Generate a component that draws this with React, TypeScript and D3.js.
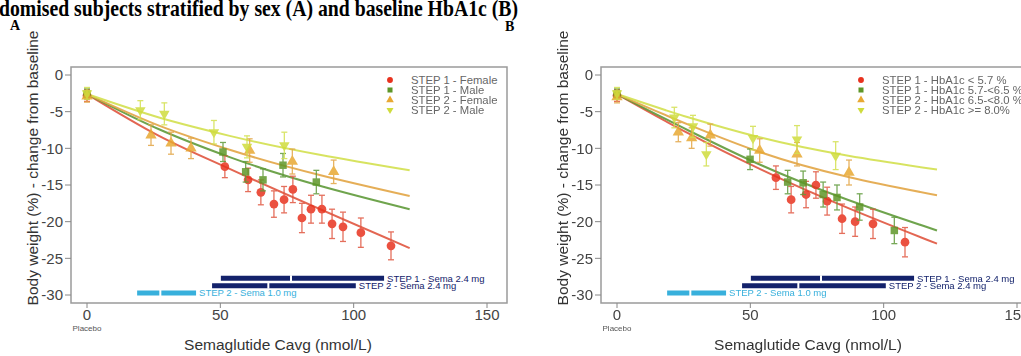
import React from 'react';
import * as d3 from 'd3';

// observed means with error half-widths: [Cavg, change %, err]
const A_STEP1_FEMALE = [[0, -2.8, 0.8], [51.7, -12.5, 1.5], [60.4, -14.3, 1.6], [65.2, -16, 1.7], [70.1, -17.6, 1.8], [73.9, -17, 1.8], [77.2, -15.6, 1.8], [80.6, -19.5, 2], [84, -18.3, 1.9], [88.1, -18.3, 1.9], [91.9, -20.3, 2], [96, -20.7, 2], [102.7, -21.5, 2], [114, -23.3, 1.9]];
const A_STEP1_MALE = [[0, -2.6, 0.7], [51, -10.5, 1.3], [59.5, -13.2, 1.4], [66, -14.3, 1.5], [73.5, -12.3, 1.6], [86, -14.6, 1.6]];
const A_STEP2_FEMALE = [[0, -2.9, 0.8], [24, -8.2, 1.4], [31.5, -9.3, 1.5], [39, -10, 1.4], [61, -10.3, 1.6], [77, -11.8, 1.7], [92.5, -13.2, 1.6]];
const A_STEP2_MALE = [[0, -2.5, 0.8], [20, -4.8, 1.3], [29, -5.3, 1.5], [47.6, -7.8, 1.6], [60, -9.8, 1.5], [74, -9.6, 1.8]];

const B_HBA_LT57 = [[0, -2.8, 0.8], [59.6, -14, 1.6], [65.3, -17, 1.8], [70.9, -16.3, 1.8], [74.6, -15, 1.8], [78.8, -17.2, 1.9], [84.4, -19.6, 2], [89.3, -20, 2], [96, -20.3, 2], [108, -22.8, 2]];
const B_HBA_57_65 = [[0, -2.6, 0.7], [49.9, -11.5, 1.4], [64, -14.6, 1.6], [69.8, -14.7, 1.6], [77.3, -16.3, 1.7], [82.5, -16.7, 1.7], [91, -18, 1.8], [104, -21.2, 1.8]];
const B_HBA_65_80 = [[0, -3, 0.8], [23, -7.8, 1.3], [28, -8.6, 1.4], [35, -8.2, 1.5], [53.5, -10.3, 1.6], [67.5, -10.8, 1.6], [87, -13.3, 1.7]];
const B_HBA_GE80 = [[0, -2.5, 0.8], [21.5, -5.8, 1.4], [28.5, -7, 1.5], [33.5, -10.8, 1.6], [51, -8.6, 1.6], [67.5, -8.8, 1.9], [82, -11, 1.9]];

// model fits
const A_FIT = [
  [[0, -2.6], [27, -8.3], [53.5, -12.8], [121, -23.6]],
  [[0, -2.6], [27, -7.4], [53.5, -11.2], [121, -18.3]],
  [[0, -2.6], [27, -6.9], [53.5, -10.2], [121, -16.5]],
  [[0, -2.6], [27, -5.8], [53.5, -8.3], [121, -13]],
];
const B_FIT = [
  [[0, -2.6], [27, -8], [53.5, -12.8], [120, -23]],
  [[0, -2.6], [27, -7.6], [53.5, -12.2], [120, -21.2]],
  [[0, -2.6], [27, -6.8], [53.5, -10.5], [120, -16.4]],
  [[0, -2.6], [27, -5.8], [53.5, -8.5], [120, -12.9]],
];

const LEGEND_A = ['STEP 1 - Female', 'STEP 1 - Male', 'STEP 2 - Female', 'STEP 2 - Male'];
const LEGEND_B = ['STEP 1 - HbA1c < 5.7 %', 'STEP 1 - HbA1c 5.7-<6.5 %', 'STEP 2 - HbA1c 6.5-<8.0 %', 'STEP 2 - HbA1c >= 8.0%'];

// exposure ranges
const EXPOSURE_LABELS = ['STEP 1 - Sema 2.4 mg', 'STEP 2 - Sema 2.4 mg', 'STEP 2 - Sema 1.0 mg'];
const EXPOSURE_LEVEL = [-28, -29, -30];
const EXPOSURE_FROM = [50.2, 46.9, 18.8];
const EXPOSURE_TO = [111.4, 100.8, 40.9];
const EXPOSURE_MID = [76.5, 68, 27.5];

const X_TICKS = [0, 50, 100, 150];
const Y_TICKS = [0, -5, -10, -15, -20, -25, -30];

const COLORS = ['#e8321e', '#5e9628', '#e8a832', '#cfdc3c'];
const LINE_COLORS = ['#e0553f', '#5f9a3a', '#e2a545', '#d3e04f'];
const BAR_COLORS = ['#13226b', '#13226b', '#38b0dc'];
const SYMBOLS = [d3.symbolCircle, d3.symbolSquare, d3.symbolTriangle, d3.symbolTriangle];
const SYM_SIZE = [60, 56, 56, 48];
const SYM_ROT = [0, 0, 0, 180];

const W = 1021;
const H = 356;
const FONT = 'Liberation Sans, Arial, sans-serif';

type PanelProps = {
  left: number; right: number; zeroPx: number; legX: number;
  series: number[][][]; fits: number[][][]; legend: string[];
};

const Panel: React.FC<PanelProps> = ({ left, right, zeroPx, legX, series, fits, legend }) => {
  const top = 67, bottom = 303;
  const x = d3.scaleLinear().domain([0, 150]).range([zeroPx, zeroPx + 400]);
  const y = d3.scaleLinear().domain([0, -30]).range([75, 295]);
  const line = d3.line<number[]>().x(d => x(d[0])).y(d => y(d[1])).curve(d3.curveMonotoneX);

  return (
    <g>
      <rect x={left} y={top} width={right - left} height={bottom - top} fill="none" stroke="#9a9a9a" strokeWidth={1.5} />
      {Y_TICKS.map(t => (
        <g key={t}>
          <line x1={left - 6} x2={left} y1={y(t)} y2={y(t)} stroke="#888" />
          <text x={left - 8} y={y(t)} dy="0.35em" textAnchor="end" fontSize={15} fill="#444" fontFamily={FONT}>{t}</text>
        </g>
      ))}
      {X_TICKS.map(t => (
        <g key={t}>
          <line x1={x(t)} x2={x(t)} y1={bottom} y2={bottom + 5} stroke="#888" />
          <text x={x(t)} y={bottom + 17} textAnchor="middle" fontSize={15} fill="#444" fontFamily={FONT}>{t}</text>
        </g>
      ))}
      <text x={x(0)} y={bottom + 28} textAnchor="middle" fontSize={8} fill="#555" fontFamily={FONT}>Placebo</text>
      <text x={x(0) + 191} y={bottom + 47} textAnchor="middle" fontSize={15.5} fill="#333" fontFamily={FONT}>Semaglutide Cavg (nmol/L)</text>
      <text transform={`translate(${left - 33},168) rotate(-90)`} textAnchor="middle" fontSize={15.5} fill="#333" fontFamily={FONT}>Body weight (%) - change from baseline</text>

      {fits.map((f, i) => (
        <path key={i} d={line(f) || ''} fill="none" stroke={LINE_COLORS[i]} strokeWidth={2} opacity={0.9} />
      ))}

      {series.map((s, i) => (
        <g key={i} opacity={0.85}>
          {s.map((p, j) => (
            <g key={j} stroke={LINE_COLORS[i]} strokeWidth={1.3}>
              <line x1={x(p[0])} x2={x(p[0])} y1={y(p[1] + p[2])} y2={y(p[1] - p[2])} />
              <line x1={x(p[0]) - 3} x2={x(p[0]) + 3} y1={y(p[1] + p[2])} y2={y(p[1] + p[2])} />
              <line x1={x(p[0]) - 3} x2={x(p[0]) + 3} y1={y(p[1] - p[2])} y2={y(p[1] - p[2])} />
              <path d={d3.symbol().type(SYMBOLS[i]).size(SYM_SIZE[i])() || ''}
                transform={`translate(${x(p[0])},${y(p[1])}) rotate(${SYM_ROT[i]})`}
                fill={COLORS[i]} stroke="none" />
            </g>
          ))}
        </g>
      ))}

      {EXPOSURE_LABELS.map((lab, i) => (
        <g key={lab}>
          <line x1={x(EXPOSURE_FROM[i])} x2={x(EXPOSURE_TO[i])} y1={y(EXPOSURE_LEVEL[i]) - 2} y2={y(EXPOSURE_LEVEL[i]) - 2}
            stroke={BAR_COLORS[i]} strokeWidth={5} />
          <line x1={x(EXPOSURE_MID[i])} x2={x(EXPOSURE_MID[i])} y1={y(EXPOSURE_LEVEL[i]) - 5} y2={y(EXPOSURE_LEVEL[i]) + 1}
            stroke="#fff" strokeWidth={2} />
          <text x={x(EXPOSURE_TO[i]) + 3} y={y(EXPOSURE_LEVEL[i]) - 2} dy="0.35em" fontSize={9.5} fill={BAR_COLORS[i]} fontFamily={FONT}>{lab}</text>
        </g>
      ))}

      {legend.map((lab, i) => (
        <g key={lab}>
          <path d={d3.symbol().type(SYMBOLS[i]).size(SYM_SIZE[i] * 0.45)() || ''}
            transform={`translate(${legX},${80 + i * 10}) rotate(${SYM_ROT[i]})`} fill={COLORS[i]} />
          <text x={legX + 21} y={80 + i * 10} dy="0.35em" fontSize={11.3} fill="#666" fontFamily={FONT}>{lab}</text>
        </g>
      ))}
    </g>
  );
};

export default function App() {
  return (
    <svg width={W} height={H} style={{ position: 'absolute', left: 0, top: 0, background: '#fff' }}>
      <rect width={W} height={H} fill="#fff" />
      <text x={-1} y={16} fontSize={23} fontWeight="bold" fontFamily="Liberation Serif, Times New Roman, serif" fill="#000"
        textLength={519} lengthAdjust="spacingAndGlyphs">domised subjects stratified by sex (A) and baseline HbA1c (B)</text>
      <text x={10} y={30} fontSize={14} fontWeight="bold" fontFamily="Liberation Serif, serif">A</text>
      <text x={505} y={31} fontSize={14} fontWeight="bold" fontFamily="Liberation Serif, serif">B</text>
      <Panel left={71} right={507} zeroPx={87} legX={390}
        series={[A_STEP1_FEMALE, A_STEP1_MALE, A_STEP2_FEMALE, A_STEP2_MALE]} fits={A_FIT} legend={LEGEND_A} />
      <Panel left={601} right={1040} zeroPx={617} legX={861}
        series={[B_HBA_LT57, B_HBA_57_65, B_HBA_65_80, B_HBA_GE80]} fits={B_FIT} legend={LEGEND_B} />
    </svg>
  );
}
